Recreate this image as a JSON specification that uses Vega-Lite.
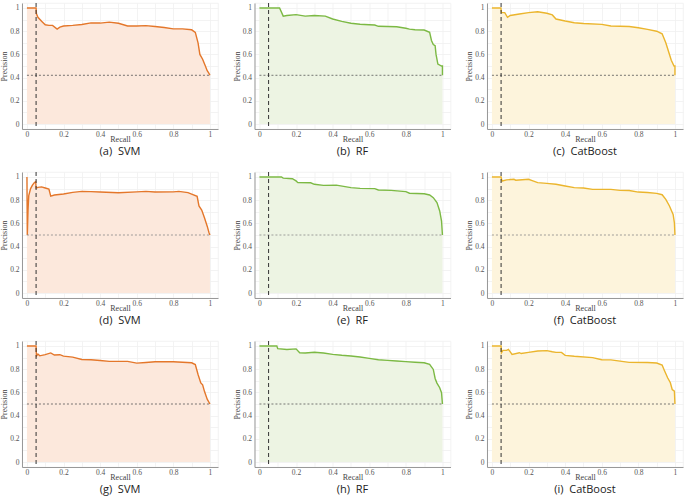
{
  "$schema": "https://vega.github.io/schema/vega-lite/v6.json",
  "padding": {"left": 0, "top": 2, "right": 2, "bottom": 2},
  "background": "white",
  "columns": 3,
  "spacing": {"row": 43, "column": 36.5},
  "bounds": "flush",
  "config": {
    "view": {"continuousWidth": 196, "continuousHeight": 126, "stroke": "#f0f0f0", "strokeWidth": 0.8},
    "axis": {"labelFont": "Liberation Serif", "labelFontSize": 7.5, "labelColor": "#555", "titleFont": "Liberation Serif", "titleFontSize": 8, "titleFontWeight": "normal", "titleColor": "#444", "domainColor": "#999", "tickSize": 0, "labelPadding": 3, "titlePadding": 1, "gridColor": "#f0f0f0", "gridWidth": 0.8},
    "axisX": {"labelPadding": 1, "titlePadding": -2},
    "title": {"orient": "bottom", "anchor": "middle", "frame": "group", "font": "Open Sans", "fontSize": 11, "fontWeight": "normal", "color": "#222", "offset": 2}
  },
  "datasets": {
    "refs": [
      {"panel": "a", "baseline": 0.42, "threshold": 0.05},
      {"panel": "b", "baseline": 0.42, "threshold": 0.05},
      {"panel": "c", "baseline": 0.42, "threshold": 0.05},
      {"panel": "d", "baseline": 0.5, "threshold": 0.05},
      {"panel": "e", "baseline": 0.5, "threshold": 0.05},
      {"panel": "f", "baseline": 0.5, "threshold": 0.05},
      {"panel": "g", "baseline": 0.5, "threshold": 0.05},
      {"panel": "h", "baseline": 0.5, "threshold": 0.05},
      {"panel": "i", "baseline": 0.5, "threshold": 0.05}
    ],
    "curves": [
      {"panel":"a","recall":0,"precision":1},{"panel":"a","recall":0.05,"precision":1},{"panel":"a","recall":0.052,"precision":0.95},{"panel":"a","recall":0.06,"precision":0.92},{"panel":"a","recall":0.08,"precision":0.885},{"panel":"a","recall":0.1,"precision":0.855},{"panel":"a","recall":0.12,"precision":0.85},{"panel":"a","recall":0.14,"precision":0.85},{"panel":"a","recall":0.165,"precision":0.818},{"panel":"a","recall":0.18,"precision":0.835},{"panel":"a","recall":0.2,"precision":0.845},{"panel":"a","recall":0.25,"precision":0.85},{"panel":"a","recall":0.3,"precision":0.858},{"panel":"a","recall":0.35,"precision":0.872},{"panel":"a","recall":0.4,"precision":0.87},{"panel":"a","recall":0.45,"precision":0.878},{"panel":"a","recall":0.5,"precision":0.868},{"panel":"a","recall":0.55,"precision":0.845},{"panel":"a","recall":0.6,"precision":0.845},{"panel":"a","recall":0.65,"precision":0.848},{"panel":"a","recall":0.7,"precision":0.84},{"panel":"a","recall":0.75,"precision":0.832},{"panel":"a","recall":0.8,"precision":0.82},{"panel":"a","recall":0.85,"precision":0.82},{"panel":"a","recall":0.9,"precision":0.812},{"panel":"a","recall":0.92,"precision":0.79},{"panel":"a","recall":0.935,"precision":0.7},{"panel":"a","recall":0.945,"precision":0.6},{"panel":"a","recall":0.96,"precision":0.558},{"panel":"a","recall":0.975,"precision":0.5},{"panel":"a","recall":0.985,"precision":0.46},{"panel":"a","recall":0.993,"precision":0.44},{"panel":"a","recall":1,"precision":0.42},
      {"panel":"b","recall":0,"precision":1},{"panel":"b","recall":0.11,"precision":1},{"panel":"b","recall":0.13,"precision":0.93},{"panel":"b","recall":0.15,"precision":0.935},{"panel":"b","recall":0.2,"precision":0.943},{"panel":"b","recall":0.25,"precision":0.93},{"panel":"b","recall":0.3,"precision":0.935},{"panel":"b","recall":0.36,"precision":0.93},{"panel":"b","recall":0.4,"precision":0.905},{"panel":"b","recall":0.45,"precision":0.885},{"panel":"b","recall":0.5,"precision":0.868},{"panel":"b","recall":0.55,"precision":0.86},{"panel":"b","recall":0.6,"precision":0.855},{"panel":"b","recall":0.63,"precision":0.853},{"panel":"b","recall":0.65,"precision":0.842},{"panel":"b","recall":0.7,"precision":0.84},{"panel":"b","recall":0.75,"precision":0.838},{"panel":"b","recall":0.8,"precision":0.825},{"panel":"b","recall":0.82,"precision":0.818},{"panel":"b","recall":0.85,"precision":0.812},{"panel":"b","recall":0.9,"precision":0.81},{"panel":"b","recall":0.93,"precision":0.79},{"panel":"b","recall":0.94,"precision":0.72},{"panel":"b","recall":0.95,"precision":0.685},{"panel":"b","recall":0.96,"precision":0.675},{"panel":"b","recall":0.965,"precision":0.6},{"panel":"b","recall":0.975,"precision":0.517},{"panel":"b","recall":0.995,"precision":0.5},{"panel":"b","recall":1,"precision":0.5},{"panel":"b","recall":1,"precision":0.42},
      {"panel":"c","recall":0,"precision":1},{"panel":"c","recall":0.049,"precision":1},{"panel":"c","recall":0.052,"precision":0.96},{"panel":"c","recall":0.07,"precision":0.96},{"panel":"c","recall":0.085,"precision":0.92},{"panel":"c","recall":0.1,"precision":0.935},{"panel":"c","recall":0.15,"precision":0.948},{"panel":"c","recall":0.2,"precision":0.96},{"panel":"c","recall":0.25,"precision":0.967},{"panel":"c","recall":0.3,"precision":0.955},{"panel":"c","recall":0.33,"precision":0.94},{"panel":"c","recall":0.35,"precision":0.905},{"panel":"c","recall":0.4,"precision":0.888},{"panel":"c","recall":0.45,"precision":0.873},{"panel":"c","recall":0.5,"precision":0.866},{"panel":"c","recall":0.6,"precision":0.859},{"panel":"c","recall":0.65,"precision":0.845},{"panel":"c","recall":0.75,"precision":0.84},{"panel":"c","recall":0.8,"precision":0.83},{"panel":"c","recall":0.85,"precision":0.816},{"panel":"c","recall":0.9,"precision":0.8},{"panel":"c","recall":0.93,"precision":0.778},{"panel":"c","recall":0.95,"precision":0.7},{"panel":"c","recall":0.965,"precision":0.625},{"panel":"c","recall":0.98,"precision":0.55},{"panel":"c","recall":0.995,"precision":0.5},{"panel":"c","recall":1,"precision":0.5},{"panel":"c","recall":1,"precision":0.42},
      {"panel":"d","recall":0,"precision":1},{"panel":"d","recall":0.002,"precision":0.5},{"panel":"d","recall":0.006,"precision":0.72},{"panel":"d","recall":0.01,"precision":0.84},{"panel":"d","recall":0.02,"precision":0.9},{"panel":"d","recall":0.03,"precision":0.93},{"panel":"d","recall":0.04,"precision":0.95},{"panel":"d","recall":0.048,"precision":0.96},{"panel":"d","recall":0.05,"precision":0.905},{"panel":"d","recall":0.06,"precision":0.91},{"panel":"d","recall":0.08,"precision":0.915},{"panel":"d","recall":0.1,"precision":0.905},{"panel":"d","recall":0.12,"precision":0.895},{"panel":"d","recall":0.13,"precision":0.835},{"panel":"d","recall":0.15,"precision":0.845},{"panel":"d","recall":0.2,"precision":0.853},{"panel":"d","recall":0.25,"precision":0.867},{"panel":"d","recall":0.3,"precision":0.876},{"panel":"d","recall":0.35,"precision":0.874},{"panel":"d","recall":0.4,"precision":0.87},{"panel":"d","recall":0.5,"precision":0.864},{"panel":"d","recall":0.6,"precision":0.872},{"panel":"d","recall":0.65,"precision":0.876},{"panel":"d","recall":0.7,"precision":0.87},{"panel":"d","recall":0.8,"precision":0.872},{"panel":"d","recall":0.83,"precision":0.876},{"panel":"d","recall":0.88,"precision":0.865},{"panel":"d","recall":0.9,"precision":0.853},{"panel":"d","recall":0.93,"precision":0.833},{"panel":"d","recall":0.94,"precision":0.75},{"panel":"d","recall":0.955,"precision":0.715},{"panel":"d","recall":0.97,"precision":0.648},{"panel":"d","recall":0.985,"precision":0.576},{"panel":"d","recall":0.995,"precision":0.52},{"panel":"d","recall":1,"precision":0.5},
      {"panel":"e","recall":0,"precision":1},{"panel":"e","recall":0.12,"precision":1},{"panel":"e","recall":0.13,"precision":0.99},{"panel":"e","recall":0.18,"precision":0.985},{"panel":"e","recall":0.2,"precision":0.966},{"panel":"e","recall":0.21,"precision":0.951},{"panel":"e","recall":0.28,"precision":0.95},{"panel":"e","recall":0.3,"precision":0.937},{"panel":"e","recall":0.35,"precision":0.928},{"panel":"e","recall":0.42,"precision":0.93},{"panel":"e","recall":0.5,"precision":0.908},{"panel":"e","recall":0.55,"precision":0.902},{"panel":"e","recall":0.63,"precision":0.9},{"panel":"e","recall":0.65,"precision":0.888},{"panel":"e","recall":0.72,"precision":0.885},{"panel":"e","recall":0.8,"precision":0.874},{"panel":"e","recall":0.82,"precision":0.86},{"panel":"e","recall":0.9,"precision":0.855},{"panel":"e","recall":0.93,"precision":0.845},{"panel":"e","recall":0.95,"precision":0.822},{"panel":"e","recall":0.97,"precision":0.779},{"panel":"e","recall":0.985,"precision":0.707},{"panel":"e","recall":0.995,"precision":0.62},{"panel":"e","recall":1,"precision":0.5},
      {"panel":"f","recall":0,"precision":1},{"panel":"f","recall":0.05,"precision":1},{"panel":"f","recall":0.055,"precision":0.965},{"panel":"f","recall":0.08,"precision":0.975},{"panel":"f","recall":0.12,"precision":0.98},{"panel":"f","recall":0.13,"precision":0.972},{"panel":"f","recall":0.2,"precision":0.98},{"panel":"f","recall":0.22,"precision":0.968},{"panel":"f","recall":0.25,"precision":0.951},{"panel":"f","recall":0.3,"precision":0.945},{"panel":"f","recall":0.35,"precision":0.937},{"panel":"f","recall":0.4,"precision":0.922},{"panel":"f","recall":0.45,"precision":0.908},{"panel":"f","recall":0.5,"precision":0.905},{"panel":"f","recall":0.55,"precision":0.893},{"panel":"f","recall":0.65,"precision":0.893},{"panel":"f","recall":0.7,"precision":0.885},{"panel":"f","recall":0.75,"precision":0.884},{"panel":"f","recall":0.8,"precision":0.87},{"panel":"f","recall":0.85,"precision":0.866},{"panel":"f","recall":0.9,"precision":0.859},{"panel":"f","recall":0.93,"precision":0.847},{"panel":"f","recall":0.95,"precision":0.807},{"panel":"f","recall":0.97,"precision":0.75},{"panel":"f","recall":0.99,"precision":0.677},{"panel":"f","recall":0.997,"precision":0.605},{"panel":"f","recall":1,"precision":0.5},
      {"panel":"g","recall":0,"precision":1},{"panel":"g","recall":0.05,"precision":1},{"panel":"g","recall":0.052,"precision":0.913},{"panel":"g","recall":0.06,"precision":0.93},{"panel":"g","recall":0.07,"precision":0.915},{"panel":"g","recall":0.1,"precision":0.925},{"panel":"g","recall":0.13,"precision":0.94},{"panel":"g","recall":0.15,"precision":0.922},{"panel":"g","recall":0.18,"precision":0.925},{"panel":"g","recall":0.2,"precision":0.913},{"panel":"g","recall":0.25,"precision":0.904},{"panel":"g","recall":0.3,"precision":0.884},{"panel":"g","recall":0.35,"precision":0.882},{"panel":"g","recall":0.4,"precision":0.875},{"panel":"g","recall":0.45,"precision":0.867},{"panel":"g","recall":0.55,"precision":0.867},{"panel":"g","recall":0.6,"precision":0.852},{"panel":"g","recall":0.65,"precision":0.858},{"panel":"g","recall":0.7,"precision":0.864},{"panel":"g","recall":0.8,"precision":0.864},{"panel":"g","recall":0.9,"precision":0.855},{"panel":"g","recall":0.92,"precision":0.84},{"panel":"g","recall":0.935,"precision":0.754},{"panel":"g","recall":0.95,"precision":0.681},{"panel":"g","recall":0.96,"precision":0.665},{"panel":"g","recall":0.97,"precision":0.609},{"panel":"g","recall":0.985,"precision":0.542},{"panel":"g","recall":1,"precision":0.5},
      {"panel":"h","recall":0,"precision":1},{"panel":"h","recall":0.095,"precision":1},{"panel":"h","recall":0.1,"precision":0.977},{"panel":"h","recall":0.15,"precision":0.97},{"panel":"h","recall":0.2,"precision":0.975},{"panel":"h","recall":0.22,"precision":0.942},{"panel":"h","recall":0.25,"precision":0.94},{"panel":"h","recall":0.3,"precision":0.946},{"panel":"h","recall":0.35,"precision":0.94},{"panel":"h","recall":0.4,"precision":0.928},{"panel":"h","recall":0.45,"precision":0.92},{"panel":"h","recall":0.5,"precision":0.914},{"panel":"h","recall":0.55,"precision":0.905},{"panel":"h","recall":0.6,"precision":0.893},{"panel":"h","recall":0.65,"precision":0.882},{"panel":"h","recall":0.7,"precision":0.876},{"panel":"h","recall":0.75,"precision":0.87},{"panel":"h","recall":0.8,"precision":0.865},{"panel":"h","recall":0.85,"precision":0.86},{"panel":"h","recall":0.9,"precision":0.855},{"panel":"h","recall":0.93,"precision":0.841},{"panel":"h","recall":0.95,"precision":0.798},{"panel":"h","recall":0.96,"precision":0.72},{"panel":"h","recall":0.97,"precision":0.68},{"panel":"h","recall":0.985,"precision":0.64},{"panel":"h","recall":0.995,"precision":0.597},{"panel":"h","recall":1,"precision":0.5},
      {"panel":"i","recall":0,"precision":1},{"panel":"i","recall":0.05,"precision":1},{"panel":"i","recall":0.052,"precision":0.942},{"panel":"i","recall":0.06,"precision":0.962},{"panel":"i","recall":0.08,"precision":0.962},{"panel":"i","recall":0.09,"precision":0.971},{"panel":"i","recall":0.1,"precision":0.95},{"panel":"i","recall":0.11,"precision":0.928},{"panel":"i","recall":0.15,"precision":0.942},{"panel":"i","recall":0.16,"precision":0.935},{"panel":"i","recall":0.2,"precision":0.945},{"panel":"i","recall":0.25,"precision":0.957},{"panel":"i","recall":0.3,"precision":0.96},{"panel":"i","recall":0.33,"precision":0.95},{"panel":"i","recall":0.35,"precision":0.945},{"panel":"i","recall":0.38,"precision":0.945},{"panel":"i","recall":0.4,"precision":0.919},{"panel":"i","recall":0.45,"precision":0.911},{"panel":"i","recall":0.55,"precision":0.9},{"panel":"i","recall":0.6,"precision":0.882},{"panel":"i","recall":0.65,"precision":0.88},{"panel":"i","recall":0.7,"precision":0.87},{"panel":"i","recall":0.75,"precision":0.859},{"panel":"i","recall":0.85,"precision":0.858},{"panel":"i","recall":0.9,"precision":0.853},{"panel":"i","recall":0.93,"precision":0.836},{"panel":"i","recall":0.94,"precision":0.798},{"panel":"i","recall":0.96,"precision":0.726},{"panel":"i","recall":0.975,"precision":0.683},{"panel":"i","recall":0.985,"precision":0.625},{"panel":"i","recall":0.997,"precision":0.611},{"panel":"i","recall":1,"precision":0.5}
    ]
  },
  "concat": [
    {"title": {"text": "(a)\u00a0 SVM"}, "layer": [
      {"data": {"name": "curves"}, "transform": [{"filter": "datum.panel === 'a'"}], "mark": {"type": "area", "color": "#fce8dc", "opacity": 1}, "encoding": {"x": {"field": "recall", "type": "quantitative", "title": "Recall", "scale": {"domain": [-0.027, 1.044], "nice": false, "zero": false}, "axis": {"values": [0, 0.1, 0.2, 0.3, 0.4, 0.5, 0.6, 0.7, 0.8, 0.9, 1], "tickCount": 20, "labelOverlap": false, "labelExpr": "round(datum.value*10) % 2 == 0 ? format(datum.value, '~g') : ''"}}, "y": {"field": "precision", "type": "quantitative", "title": "Precision", "scale": {"domain": [-0.043, 1.043], "nice": false, "zero": false}, "axis": {"values": [0, 0.1, 0.2, 0.3, 0.4, 0.5, 0.6, 0.7, 0.8, 0.9, 1], "tickCount": 20, "labelOverlap": false, "labelExpr": "round(datum.value*10) % 2 == 0 ? format(datum.value, '~g') : ''"}}, "order": {"value": null}}},
      {"data": {"name": "curves"}, "transform": [{"filter": "datum.panel === 'a'"}], "mark": {"type": "line", "color": "#e4772b", "strokeWidth": 1.4}, "encoding": {"x": {"field": "recall", "type": "quantitative", "title": "Recall"}, "y": {"field": "precision", "type": "quantitative", "title": "Precision"}, "order": {"value": null}}},
      {"data": {"name": "refs"}, "transform": [{"filter": "datum.panel === 'a'"}], "mark": {"type": "rule", "color": "#555", "strokeDash": [2, 2], "strokeWidth": 0.8}, "encoding": {"y": {"field": "baseline", "type": "quantitative", "title": "Precision"}, "x": {"datum": 0}, "x2": {"datum": 1}}},
      {"data": {"name": "refs"}, "transform": [{"filter": "datum.panel === 'a'"}], "mark": {"type": "rule", "color": "#333", "strokeDash": [4, 3], "strokeWidth": 1}, "encoding": {"x": {"field": "threshold", "type": "quantitative", "title": "Recall"}}}
    ]},
    {"title": {"text": "(b)\u00a0 RF"}, "layer": [
      {"data": {"name": "curves"}, "transform": [{"filter": "datum.panel === 'b'"}], "mark": {"type": "area", "color": "#edf4e3", "opacity": 1}, "encoding": {"x": {"field": "recall", "type": "quantitative", "title": "Recall", "scale": {"domain": [-0.027, 1.044], "nice": false, "zero": false}, "axis": {"values": [0, 0.1, 0.2, 0.3, 0.4, 0.5, 0.6, 0.7, 0.8, 0.9, 1], "tickCount": 20, "labelOverlap": false, "labelExpr": "round(datum.value*10) % 2 == 0 ? format(datum.value, '~g') : ''"}}, "y": {"field": "precision", "type": "quantitative", "title": "Precision", "scale": {"domain": [-0.043, 1.043], "nice": false, "zero": false}, "axis": {"values": [0, 0.1, 0.2, 0.3, 0.4, 0.5, 0.6, 0.7, 0.8, 0.9, 1], "tickCount": 20, "labelOverlap": false, "labelExpr": "round(datum.value*10) % 2 == 0 ? format(datum.value, '~g') : ''"}}, "order": {"value": null}}},
      {"data": {"name": "curves"}, "transform": [{"filter": "datum.panel === 'b'"}], "mark": {"type": "line", "color": "#7cb944", "strokeWidth": 1.4}, "encoding": {"x": {"field": "recall", "type": "quantitative", "title": "Recall"}, "y": {"field": "precision", "type": "quantitative", "title": "Precision"}, "order": {"value": null}}},
      {"data": {"name": "refs"}, "transform": [{"filter": "datum.panel === 'b'"}], "mark": {"type": "rule", "color": "#555", "strokeDash": [2, 2], "strokeWidth": 0.8}, "encoding": {"y": {"field": "baseline", "type": "quantitative", "title": "Precision"}, "x": {"datum": 0}, "x2": {"datum": 1}}},
      {"data": {"name": "refs"}, "transform": [{"filter": "datum.panel === 'b'"}], "mark": {"type": "rule", "color": "#333", "strokeDash": [4, 3], "strokeWidth": 1}, "encoding": {"x": {"field": "threshold", "type": "quantitative", "title": "Recall"}}}
    ]},
    {"title": {"text": "(c)\u00a0 CatBoost"}, "layer": [
      {"data": {"name": "curves"}, "transform": [{"filter": "datum.panel === 'c'"}], "mark": {"type": "area", "color": "#fdf4dc", "opacity": 1}, "encoding": {"x": {"field": "recall", "type": "quantitative", "title": "Recall", "scale": {"domain": [-0.027, 1.044], "nice": false, "zero": false}, "axis": {"values": [0, 0.1, 0.2, 0.3, 0.4, 0.5, 0.6, 0.7, 0.8, 0.9, 1], "tickCount": 20, "labelOverlap": false, "labelExpr": "round(datum.value*10) % 2 == 0 ? format(datum.value, '~g') : ''"}}, "y": {"field": "precision", "type": "quantitative", "title": "Precision", "scale": {"domain": [-0.043, 1.043], "nice": false, "zero": false}, "axis": {"values": [0, 0.1, 0.2, 0.3, 0.4, 0.5, 0.6, 0.7, 0.8, 0.9, 1], "tickCount": 20, "labelOverlap": false, "labelExpr": "round(datum.value*10) % 2 == 0 ? format(datum.value, '~g') : ''"}}, "order": {"value": null}}},
      {"data": {"name": "curves"}, "transform": [{"filter": "datum.panel === 'c'"}], "mark": {"type": "line", "color": "#ebb52d", "strokeWidth": 1.4}, "encoding": {"x": {"field": "recall", "type": "quantitative", "title": "Recall"}, "y": {"field": "precision", "type": "quantitative", "title": "Precision"}, "order": {"value": null}}},
      {"data": {"name": "refs"}, "transform": [{"filter": "datum.panel === 'c'"}], "mark": {"type": "rule", "color": "#555", "strokeDash": [2, 2], "strokeWidth": 0.8}, "encoding": {"y": {"field": "baseline", "type": "quantitative", "title": "Precision"}, "x": {"datum": 0}, "x2": {"datum": 1}}},
      {"data": {"name": "refs"}, "transform": [{"filter": "datum.panel === 'c'"}], "mark": {"type": "rule", "color": "#333", "strokeDash": [4, 3], "strokeWidth": 1}, "encoding": {"x": {"field": "threshold", "type": "quantitative", "title": "Recall"}}}
    ]},
    {"title": {"text": "(d)\u00a0 SVM"}, "layer": [
      {"data": {"name": "curves"}, "transform": [{"filter": "datum.panel === 'd'"}], "mark": {"type": "area", "color": "#fce8dc", "opacity": 1}, "encoding": {"x": {"field": "recall", "type": "quantitative", "title": "Recall", "scale": {"domain": [-0.027, 1.044], "nice": false, "zero": false}, "axis": {"values": [0, 0.1, 0.2, 0.3, 0.4, 0.5, 0.6, 0.7, 0.8, 0.9, 1], "tickCount": 20, "labelOverlap": false, "labelExpr": "round(datum.value*10) % 2 == 0 ? format(datum.value, '~g') : ''"}}, "y": {"field": "precision", "type": "quantitative", "title": "Precision", "scale": {"domain": [-0.043, 1.043], "nice": false, "zero": false}, "axis": {"values": [0, 0.1, 0.2, 0.3, 0.4, 0.5, 0.6, 0.7, 0.8, 0.9, 1], "tickCount": 20, "labelOverlap": false, "labelExpr": "round(datum.value*10) % 2 == 0 ? format(datum.value, '~g') : ''"}}, "order": {"value": null}}},
      {"data": {"name": "curves"}, "transform": [{"filter": "datum.panel === 'd'"}], "mark": {"type": "line", "color": "#e4772b", "strokeWidth": 1.4}, "encoding": {"x": {"field": "recall", "type": "quantitative", "title": "Recall"}, "y": {"field": "precision", "type": "quantitative", "title": "Precision"}, "order": {"value": null}}},
      {"data": {"name": "refs"}, "transform": [{"filter": "datum.panel === 'd'"}], "mark": {"type": "rule", "color": "#888", "strokeDash": [2, 2], "strokeWidth": 0.8}, "encoding": {"y": {"field": "baseline", "type": "quantitative", "title": "Precision"}, "x": {"datum": 0}, "x2": {"datum": 1}}},
      {"data": {"name": "refs"}, "transform": [{"filter": "datum.panel === 'd'"}], "mark": {"type": "rule", "color": "#333", "strokeDash": [4, 3], "strokeWidth": 1}, "encoding": {"x": {"field": "threshold", "type": "quantitative", "title": "Recall"}}}
    ]},
    {"title": {"text": "(e)\u00a0 RF"}, "layer": [
      {"data": {"name": "curves"}, "transform": [{"filter": "datum.panel === 'e'"}], "mark": {"type": "area", "color": "#edf4e3", "opacity": 1}, "encoding": {"x": {"field": "recall", "type": "quantitative", "title": "Recall", "scale": {"domain": [-0.027, 1.044], "nice": false, "zero": false}, "axis": {"values": [0, 0.1, 0.2, 0.3, 0.4, 0.5, 0.6, 0.7, 0.8, 0.9, 1], "tickCount": 20, "labelOverlap": false, "labelExpr": "round(datum.value*10) % 2 == 0 ? format(datum.value, '~g') : ''"}}, "y": {"field": "precision", "type": "quantitative", "title": "Precision", "scale": {"domain": [-0.043, 1.043], "nice": false, "zero": false}, "axis": {"values": [0, 0.1, 0.2, 0.3, 0.4, 0.5, 0.6, 0.7, 0.8, 0.9, 1], "tickCount": 20, "labelOverlap": false, "labelExpr": "round(datum.value*10) % 2 == 0 ? format(datum.value, '~g') : ''"}}, "order": {"value": null}}},
      {"data": {"name": "curves"}, "transform": [{"filter": "datum.panel === 'e'"}], "mark": {"type": "line", "color": "#7cb944", "strokeWidth": 1.4}, "encoding": {"x": {"field": "recall", "type": "quantitative", "title": "Recall"}, "y": {"field": "precision", "type": "quantitative", "title": "Precision"}, "order": {"value": null}}},
      {"data": {"name": "refs"}, "transform": [{"filter": "datum.panel === 'e'"}], "mark": {"type": "rule", "color": "#888", "strokeDash": [2, 2], "strokeWidth": 0.8}, "encoding": {"y": {"field": "baseline", "type": "quantitative", "title": "Precision"}, "x": {"datum": 0}, "x2": {"datum": 1}}},
      {"data": {"name": "refs"}, "transform": [{"filter": "datum.panel === 'e'"}], "mark": {"type": "rule", "color": "#333", "strokeDash": [4, 3], "strokeWidth": 1}, "encoding": {"x": {"field": "threshold", "type": "quantitative", "title": "Recall"}}}
    ]},
    {"title": {"text": "(f)\u00a0 CatBoost"}, "layer": [
      {"data": {"name": "curves"}, "transform": [{"filter": "datum.panel === 'f'"}], "mark": {"type": "area", "color": "#fdf4dc", "opacity": 1}, "encoding": {"x": {"field": "recall", "type": "quantitative", "title": "Recall", "scale": {"domain": [-0.027, 1.044], "nice": false, "zero": false}, "axis": {"values": [0, 0.1, 0.2, 0.3, 0.4, 0.5, 0.6, 0.7, 0.8, 0.9, 1], "tickCount": 20, "labelOverlap": false, "labelExpr": "round(datum.value*10) % 2 == 0 ? format(datum.value, '~g') : ''"}}, "y": {"field": "precision", "type": "quantitative", "title": "Precision", "scale": {"domain": [-0.043, 1.043], "nice": false, "zero": false}, "axis": {"values": [0, 0.1, 0.2, 0.3, 0.4, 0.5, 0.6, 0.7, 0.8, 0.9, 1], "tickCount": 20, "labelOverlap": false, "labelExpr": "round(datum.value*10) % 2 == 0 ? format(datum.value, '~g') : ''"}}, "order": {"value": null}}},
      {"data": {"name": "curves"}, "transform": [{"filter": "datum.panel === 'f'"}], "mark": {"type": "line", "color": "#ebb52d", "strokeWidth": 1.4}, "encoding": {"x": {"field": "recall", "type": "quantitative", "title": "Recall"}, "y": {"field": "precision", "type": "quantitative", "title": "Precision"}, "order": {"value": null}}},
      {"data": {"name": "refs"}, "transform": [{"filter": "datum.panel === 'f'"}], "mark": {"type": "rule", "color": "#888", "strokeDash": [2, 2], "strokeWidth": 0.8}, "encoding": {"y": {"field": "baseline", "type": "quantitative", "title": "Precision"}, "x": {"datum": 0}, "x2": {"datum": 1}}},
      {"data": {"name": "refs"}, "transform": [{"filter": "datum.panel === 'f'"}], "mark": {"type": "rule", "color": "#333", "strokeDash": [4, 3], "strokeWidth": 1}, "encoding": {"x": {"field": "threshold", "type": "quantitative", "title": "Recall"}}}
    ]},
    {"title": {"text": "(g)\u00a0 SVM"}, "layer": [
      {"data": {"name": "curves"}, "transform": [{"filter": "datum.panel === 'g'"}], "mark": {"type": "area", "color": "#fce8dc", "opacity": 1}, "encoding": {"x": {"field": "recall", "type": "quantitative", "title": "Recall", "scale": {"domain": [-0.027, 1.044], "nice": false, "zero": false}, "axis": {"values": [0, 0.1, 0.2, 0.3, 0.4, 0.5, 0.6, 0.7, 0.8, 0.9, 1], "tickCount": 20, "labelOverlap": false, "labelExpr": "round(datum.value*10) % 2 == 0 ? format(datum.value, '~g') : ''"}}, "y": {"field": "precision", "type": "quantitative", "title": "Precision", "scale": {"domain": [-0.043, 1.043], "nice": false, "zero": false}, "axis": {"values": [0, 0.1, 0.2, 0.3, 0.4, 0.5, 0.6, 0.7, 0.8, 0.9, 1], "tickCount": 20, "labelOverlap": false, "labelExpr": "round(datum.value*10) % 2 == 0 ? format(datum.value, '~g') : ''"}}, "order": {"value": null}}},
      {"data": {"name": "curves"}, "transform": [{"filter": "datum.panel === 'g'"}], "mark": {"type": "line", "color": "#e4772b", "strokeWidth": 1.4}, "encoding": {"x": {"field": "recall", "type": "quantitative", "title": "Recall"}, "y": {"field": "precision", "type": "quantitative", "title": "Precision"}, "order": {"value": null}}},
      {"data": {"name": "refs"}, "transform": [{"filter": "datum.panel === 'g'"}], "mark": {"type": "rule", "color": "#555", "strokeDash": [2, 2], "strokeWidth": 0.8}, "encoding": {"y": {"field": "baseline", "type": "quantitative", "title": "Precision"}, "x": {"datum": 0}, "x2": {"datum": 1}}},
      {"data": {"name": "refs"}, "transform": [{"filter": "datum.panel === 'g'"}], "mark": {"type": "rule", "color": "#333", "strokeDash": [4, 3], "strokeWidth": 1}, "encoding": {"x": {"field": "threshold", "type": "quantitative", "title": "Recall"}}}
    ]},
    {"title": {"text": "(h)\u00a0 RF"}, "layer": [
      {"data": {"name": "curves"}, "transform": [{"filter": "datum.panel === 'h'"}], "mark": {"type": "area", "color": "#edf4e3", "opacity": 1}, "encoding": {"x": {"field": "recall", "type": "quantitative", "title": "Recall", "scale": {"domain": [-0.027, 1.044], "nice": false, "zero": false}, "axis": {"values": [0, 0.1, 0.2, 0.3, 0.4, 0.5, 0.6, 0.7, 0.8, 0.9, 1], "tickCount": 20, "labelOverlap": false, "labelExpr": "round(datum.value*10) % 2 == 0 ? format(datum.value, '~g') : ''"}}, "y": {"field": "precision", "type": "quantitative", "title": "Precision", "scale": {"domain": [-0.043, 1.043], "nice": false, "zero": false}, "axis": {"values": [0, 0.1, 0.2, 0.3, 0.4, 0.5, 0.6, 0.7, 0.8, 0.9, 1], "tickCount": 20, "labelOverlap": false, "labelExpr": "round(datum.value*10) % 2 == 0 ? format(datum.value, '~g') : ''"}}, "order": {"value": null}}},
      {"data": {"name": "curves"}, "transform": [{"filter": "datum.panel === 'h'"}], "mark": {"type": "line", "color": "#7cb944", "strokeWidth": 1.4}, "encoding": {"x": {"field": "recall", "type": "quantitative", "title": "Recall"}, "y": {"field": "precision", "type": "quantitative", "title": "Precision"}, "order": {"value": null}}},
      {"data": {"name": "refs"}, "transform": [{"filter": "datum.panel === 'h'"}], "mark": {"type": "rule", "color": "#555", "strokeDash": [2, 2], "strokeWidth": 0.8}, "encoding": {"y": {"field": "baseline", "type": "quantitative", "title": "Precision"}, "x": {"datum": 0}, "x2": {"datum": 1}}},
      {"data": {"name": "refs"}, "transform": [{"filter": "datum.panel === 'h'"}], "mark": {"type": "rule", "color": "#333", "strokeDash": [4, 3], "strokeWidth": 1}, "encoding": {"x": {"field": "threshold", "type": "quantitative", "title": "Recall"}}}
    ]},
    {"title": {"text": "(i)\u00a0 CatBoost"}, "layer": [
      {"data": {"name": "curves"}, "transform": [{"filter": "datum.panel === 'i'"}], "mark": {"type": "area", "color": "#fdf4dc", "opacity": 1}, "encoding": {"x": {"field": "recall", "type": "quantitative", "title": "Recall", "scale": {"domain": [-0.027, 1.044], "nice": false, "zero": false}, "axis": {"values": [0, 0.1, 0.2, 0.3, 0.4, 0.5, 0.6, 0.7, 0.8, 0.9, 1], "tickCount": 20, "labelOverlap": false, "labelExpr": "round(datum.value*10) % 2 == 0 ? format(datum.value, '~g') : ''"}}, "y": {"field": "precision", "type": "quantitative", "title": "Precision", "scale": {"domain": [-0.043, 1.043], "nice": false, "zero": false}, "axis": {"values": [0, 0.1, 0.2, 0.3, 0.4, 0.5, 0.6, 0.7, 0.8, 0.9, 1], "tickCount": 20, "labelOverlap": false, "labelExpr": "round(datum.value*10) % 2 == 0 ? format(datum.value, '~g') : ''"}}, "order": {"value": null}}},
      {"data": {"name": "curves"}, "transform": [{"filter": "datum.panel === 'i'"}], "mark": {"type": "line", "color": "#ebb52d", "strokeWidth": 1.4}, "encoding": {"x": {"field": "recall", "type": "quantitative", "title": "Recall"}, "y": {"field": "precision", "type": "quantitative", "title": "Precision"}, "order": {"value": null}}},
      {"data": {"name": "refs"}, "transform": [{"filter": "datum.panel === 'i'"}], "mark": {"type": "rule", "color": "#555", "strokeDash": [2, 2], "strokeWidth": 0.8}, "encoding": {"y": {"field": "baseline", "type": "quantitative", "title": "Precision"}, "x": {"datum": 0}, "x2": {"datum": 1}}},
      {"data": {"name": "refs"}, "transform": [{"filter": "datum.panel === 'i'"}], "mark": {"type": "rule", "color": "#333", "strokeDash": [4, 3], "strokeWidth": 1}, "encoding": {"x": {"field": "threshold", "type": "quantitative", "title": "Recall"}}}
    ]}
  ]
}
